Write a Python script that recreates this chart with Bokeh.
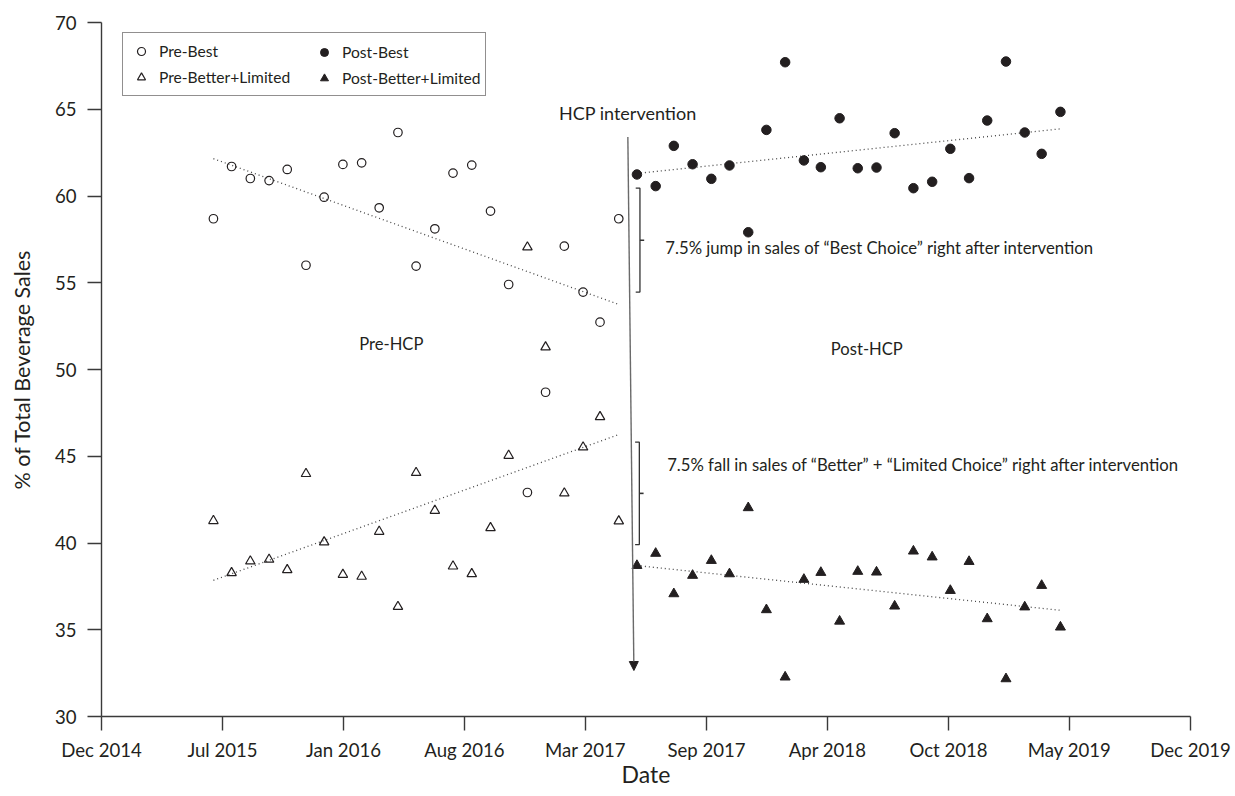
import pandas as pd
from bokeh.plotting import figure
from bokeh.models import (ColumnDataSource, Range1d, FixedTicker, Legend, LegendItem,
                          Label, Arrow, NormalHead)
from bokeh.embed import file_html
from bokeh.resources import INLINE

# ---------------- data ----------------
tick_labels = ["Dec 2014", "Jul 2015", "Jan 2016", "Aug 2016", "Mar 2017",
               "Sep 2017", "Apr 2018", "Oct 2018", "May 2019", "Dec 2019"]
y_ticks = [30, 35, 40, 45, 50, 55, 60, 65, 70]

pre_months = pd.date_range("2015-06-01", "2017-04-01", freq="MS")
post_months = pd.date_range("2017-05-01", "2019-04-01", freq="MS")

pre_best = [58.69, 61.70, 61.01, 60.89, 61.53, 56.01, 59.93, 61.82, 61.91, 59.32,
            63.66, 55.96, 58.11, 61.32, 61.78, 59.13, 54.90, 42.91, 48.69, 57.11,
            54.46, 52.73, 58.69]
pre_better = [41.28, 38.28, 38.95, 39.05, 38.45, 43.99, 40.05, 38.18, 38.07, 40.66,
              36.33, 44.05, 41.87, 38.66, 38.22, 40.87, 45.04, 57.05, 51.29, 42.87,
              45.52, 47.27, 41.26]
post_best = [61.24, 60.57, 62.89, 61.83, 60.99, 61.76, 57.91, 63.81, 67.71, 62.05,
             61.66, 64.48, 61.60, 61.64, 63.62, 60.45, 60.82, 62.72, 61.03, 64.35,
             67.75, 63.66, 62.43, 64.85]
post_better = [38.70, 39.40, 37.07, 38.13, 38.99, 38.22, 42.03, 36.15, 32.27, 37.90,
               38.30, 35.49, 38.36, 38.32, 36.36, 39.53, 39.19, 37.26, 38.93, 35.63,
               32.17, 36.31, 37.55, 35.15]

# fitted trend lines (value at first and last month of each period)
pre_best_trend = [62.15, 53.75]
pre_better_trend = [37.85, 46.25]
post_best_trend = [61.30, 63.87]
post_better_trend = [38.70, 36.12]

# ---------------- helpers ----------------
FONT = "Lato"
INK = "#231f20"
ORIGIN = pd.Timestamp("2014-11-28")      # where the "Dec 2014" tick sits
SPAN = 1800                              # days covered by the axis
STEP = SPAN // (len(tick_labels) - 1)


def days(d):
    return (pd.Timestamp(d) - ORIGIN).days


x_pre = [days(m) for m in pre_months]
x_post = [days(m) for m in post_months]

src_pre = ColumnDataSource(dict(x=x_pre, best=pre_best, better=pre_better))
src_post = ColumnDataSource(dict(x=x_post, best=post_best, better=post_better))

p = figure(width=1235, height=796, x_range=Range1d(0, SPAN), y_range=Range1d(30, 70),
           output_backend="svg", toolbar_location=None,
           min_border_left=101, min_border_right=45, min_border_top=22, min_border_bottom=80,
           background_fill_color="white", border_fill_color="white")
p.xgrid.visible = False
p.ygrid.visible = False
p.outline_line_color = None

# axes
x_tick_pos = [i * STEP for i in range(len(tick_labels))]
p.xaxis.ticker = FixedTicker(ticks=x_tick_pos)
p.xaxis.major_label_overrides = {t: lab for t, lab in zip(x_tick_pos, tick_labels)}
p.yaxis.ticker = FixedTicker(ticks=y_ticks)
p.xaxis.axis_label = "Date"
p.yaxis.axis_label = "% of Total Beverage Sales"
for ax in (p.xaxis[0], p.yaxis[0]):
    ax.major_tick_out = 14
    ax.major_tick_in = 0
    ax.minor_tick_line_color = None
    ax.axis_line_color = "#3a3a3a"
    ax.axis_line_width = 1.4
    ax.major_tick_line_color = "#3a3a3a"
    ax.major_tick_line_width = 1.4
    ax.major_label_text_font = FONT
    ax.major_label_text_font_size = "18.6px"
    ax.major_label_text_color = INK
    ax.axis_label_text_font = FONT
    ax.axis_label_text_font_style = "normal"
    ax.axis_label_text_color = INK
p.xaxis.axis_label_text_font_size = "23px"
p.yaxis.axis_label_text_font_size = "21.5px"
p.xaxis.major_label_standoff = 8
p.xaxis.axis_label_standoff = -4
p.yaxis.major_label_standoff = 11
p.yaxis.axis_label_standoff = 17

# trend lines
DOT = dict(line_dash="1 3", line_color="#444444", line_width=1.3)
p.line([x_pre[0], x_pre[-1]], pre_best_trend, **DOT)
p.line([x_pre[0], x_pre[-1]], pre_better_trend, **DOT)
p.line([x_post[0], x_post[-1]], post_best_trend, **DOT)
p.line([x_post[0], x_post[-1]], post_better_trend, **DOT)

# points
r_pre_best = p.scatter("x", "best", source=src_pre, marker="circle", size=8.5,
                       fill_color=None, line_color=INK, line_width=1.2)
r_pre_better = p.scatter("x", "better", source=src_pre, marker="triangle", size=9.5,
                         fill_color=None, line_color=INK, line_width=1.2)
r_post_best = p.scatter("x", "best", source=src_post, marker="circle", size=9.5,
                        fill_color=INK, line_color=INK, line_width=1)
r_post_better = p.scatter("x", "better", source=src_post, marker="triangle", size=10,
                          fill_color=INK, line_color=INK, line_width=1)

# intervention arrow
p.add_layout(Arrow(end=NormalHead(size=9, fill_color=INK, line_color=INK, line_width=1),
                   x_start=days("2017-04-16"), y_start=63.4,
                   x_end=days("2017-04-26"), y_end=32.65,
                   line_color="#6a6a6a", line_width=1.4))

# brackets  (x, top, bottom, middle)
brackets = [(days("2017-05-06"), 60.45, 54.46, 57.45),
            (days("2017-05-05"), 45.81, 39.91, 42.86)]
HOOK = 7
for bx, top, bot, mid in brackets:
    p.line([bx - HOOK, bx, bx, bx - HOOK], [top, top, bot, bot],
           line_color="#333333", line_width=1.3)
    p.line([bx, bx + HOOK], [mid, mid], line_color="#333333", line_width=1.6)


# texts
def add_text(x, y, text, size, align="left"):
    p.add_layout(Label(x=x, y=y, text=text, text_font=FONT, text_font_size=size,
                       text_color=INK, text_align=align, text_baseline="middle"))


add_text(days("2017-04-16"), 64.77, "HCP intervention", "18px", "center")
add_text(days("2017-06-17"), 57.0,
         "7.5% jump in sales of \u201cBest Choice\u201d right after intervention", "16.7px")
add_text(days("2017-06-20"), 44.5,
         "7.5% fall in sales of \u201cBetter\u201d + \u201cLimited Choice\u201d right after intervention",
         "16.7px")
add_text(days("2016-03-21"), 51.48, "Pre-HCP", "16.6px", "center")
add_text(days("2018-05-16"), 51.19, "Post-HCP", "16.6px", "center")

# legend: a framed box holding the "Pre" column, with the "Post" column on top
LEG = dict(orientation="vertical", padding=8, spacing=6, margin=0, glyph_width=20,
           glyph_height=20, label_standoff=8, label_height=20,
           label_text_font=FONT, label_text_font_size="15.6px", label_text_color=INK)
leg_pre = Legend(items=[LegendItem(label="Pre-Best", renderers=[r_pre_best]),
                        LegendItem(label="Pre-Better+Limited", renderers=[r_pre_better])],
                 location=(21, 620), label_width=318,
                 border_line_color=INK, border_line_width=1.2,
                 background_fill_color="white", background_fill_alpha=1, **LEG)
leg_post = Legend(items=[LegendItem(label="Post-Best", renderers=[r_post_best]),
                         LegendItem(label="Post-Better+Limited", renderers=[r_post_better])],
                  location=(205, 620), border_line_alpha=0, background_fill_alpha=0, **LEG)
p.add_layout(leg_pre)
p.add_layout(leg_post)

open("out.html", "w").write(file_html(p, INLINE))
